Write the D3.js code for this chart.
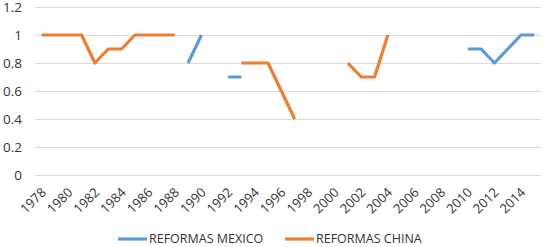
<!DOCTYPE html>
<html>
<meta charset="utf-8">
<head>
  <script src="https://d3js.org/d3.v7.min.js"></script>
  <style>
    body { margin: 0; background: #fff; }
    text { font-family: "Open Sans", sans-serif; fill: #333; }
  </style>
</head>
<body>
<div id="chart"></div>
<script>
  // years 1978..2015
  var years = [1978,1979,1980,1981,1982,1983,1984,1985,1986,1987,1988,1989,1990,1991,1992,1993,1994,1995,1996,1997,
               1998,1999,2000,2001,2002,2003,2004,2005,2006,2007,2008,2009,2010,2011,2012,2013,2014,2015];
  var mexico = [null,null,null,null,null,null,null,null,null,null,null,0.8,1,null,0.7,0.7,null,null,null,null,
                null,null,null,null,null,null,null,null,null,null,null,null,0.9,0.9,0.8,0.9,1,1];
  var china  = [1,1,1,1,0.8,0.9,0.9,1,1,1,1,null,null,null,null,0.8,0.8,0.8,0.6,0.4,
                null,null,null,0.8,0.7,0.7,1,null,null,null,null,null,null,null,null,null,null,null];
  var yTicks = [0,0.2,0.4,0.6,0.8,1,1.2];
  var seriesNames = ["REFORMAS MEXICO", "REFORMAS CHINA"];
  var colors = ["#5b9bd5", "#ed7d31"];

  var W = 545, H = 247;
  var svg = d3.select("#chart").append("svg")
      .attr("width", W)
      .attr("height", H);

  var x = d3.scaleBand().domain(years).range([35, 541]);
  var y = d3.scaleLinear().domain([0, 1.2]).range([175, 7]);

  // gridlines + y labels
  var yAxis = svg.append("g")
      .attr("transform", "translate(35,0)")
      .call(d3.axisLeft(y).tickValues(yTicks).tickSize(-(541 - 35)).tickPadding(13)
        .tickFormat(function(d){ return d3.format("~g")(d); }));
  yAxis.select(".domain").remove();
  yAxis.selectAll("line").attr("stroke", "#d9d9d9");
  yAxis.selectAll("text").attr("font-size", 13.5).attr("fill", "#333").attr("dy", "0.36em");

  // x labels every 2 years
  var xAxis = svg.append("g")
      .attr("transform", "translate(0,175)")
      .call(d3.axisBottom(x).tickValues(years.filter(function(d){ return (d - 1978) % 2 == 0; })).tickSize(0));
  xAxis.select(".domain").remove();
  xAxis.selectAll("text")
      .attr("font-size", 13)
      .attr("fill", "#333")
      .attr("text-anchor", "end")
      .attr("x", 0).attr("y", 0)
      .attr("dy", "0.35em")
      .attr("transform", "translate(2,15) rotate(-45)");

  var line = d3.line()
      .defined(function(d){ return d.v != null; })
      .x(function(d){ return x(d.year) + x.bandwidth() / 2; })
      .y(function(d){ return y(d.v); });

  [mexico, china].forEach(function(s, i) {
    var pts = years.map(function(yr, j){ return {year: yr, v: s[j]}; });
    svg.append("path")
        .attr("d", line(pts))
        .attr("fill", "none")
        .attr("stroke", colors[i])
        .attr("stroke-width", 3.2)
        .attr("stroke-linejoin", "round");
  });

  // legend
  var legX = [118, 285];
  var leg = svg.append("g");
  seriesNames.forEach(function(name, i) {
    leg.append("line")
        .attr("x1", legX[i]).attr("x2", legX[i] + 29)
        .attr("y1", 239).attr("y2", 239)
        .attr("stroke", colors[i]).attr("stroke-width", 3.2);
    leg.append("text")
        .attr("x", legX[i] + 31).attr("y", 239)
        .attr("dy", "0.35em")
        .attr("font-size", 12.5)
        .text(name);
  });
</script>
</body>
</html>
